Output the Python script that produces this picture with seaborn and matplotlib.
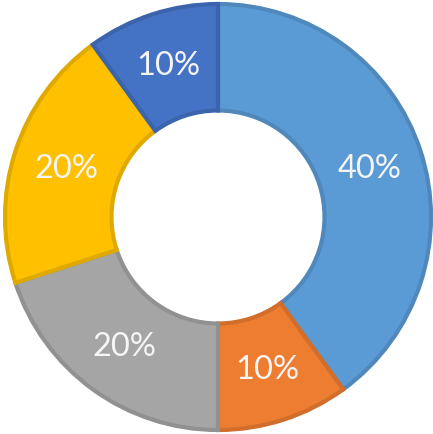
import matplotlib
matplotlib.use("Agg")
import matplotlib.pyplot as plt
import seaborn as sns
import numpy as np
from matplotlib.colors import to_rgb

sns.set_style("white")
plt.rcParams['font.family'] = ['Lato', 'DejaVu Sans']

categories = ["A", "B", "C", "D", "E"]
values = [40, 10, 20, 20, 10]
labels = ["40%", "10%", "20%", "20%", "10%"]
colors = ["#5B9BD5", "#ED7D31", "#A5A5A5", "#FFC000", "#4472C4"]
edge_colors = [tuple(c * 0.88 for c in to_rgb(col)) for col in colors]

fig = plt.figure(figsize=(4.33, 4.35), dpi=100)
ax = fig.add_axes([0, 0, 1, 1])
wedges, _ = ax.pie(values, colors=colors, startangle=90, counterclock=False,
                   radius=1.0, wedgeprops=dict(width=0.5, linewidth=3))
for w, ec in zip(wedges, edge_colors):
    w.set_edgecolor(ec)

cum = 0
total = sum(values)
for v, lab in zip(values, labels):
    mid = cum + v / 2
    ang = np.deg2rad(90 - 360 * mid / total)
    r = 0.75
    ax.text(r * np.cos(ang), r * np.sin(ang), lab, ha="center", va="center",
            fontsize=23.5, color="#F5F5F5", fontweight="normal")
    cum += v

R = 1.0
ax.set_xlim(-218 / 213 * R, (433 - 218) / 213 * R)
ax.set_ylim(-(435 - 218) / 213 * R, 218 / 213 * R)
ax.set_aspect("equal")
ax.axis("off")
fig.savefig("out.png", dpi=100)
